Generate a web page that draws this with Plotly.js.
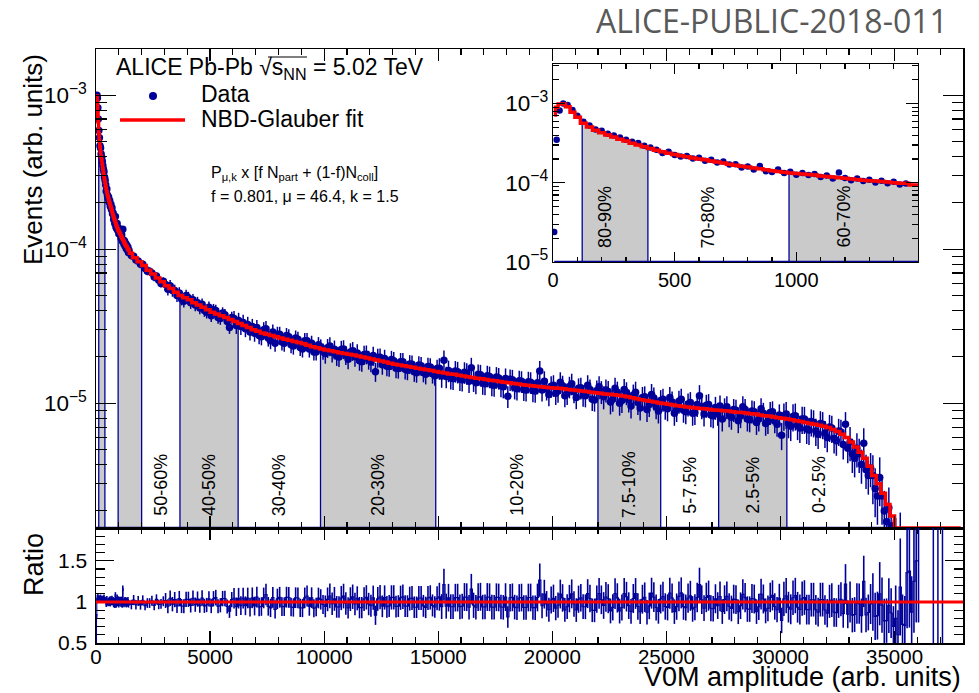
<!DOCTYPE html>
<html><head><meta charset="utf-8">
<script src="https://cdn.plot.ly/plotly-3.0.1.min.js"></script>
<style>html,body{margin:0;padding:0;background:#fff}</style>
</head><body><div id="chart" style="width:979px;height:693px"></div>
<script>
// ================= DATA =================
// Low-amplitude region (detailed in the inset): V0M amplitude, events and fit in units of 1e-6
const lowX = [5,15,27,42,60,80,100,125,150,175,200,225,250,275,300,325,350,375,400,425,450,475,500,525,550,575,600,625,650,675,700,725,750,775,800,825,850,875,900,925,950,975,1000,1025,1050,1075,1100,1125,1150,1175,1200,1225,1250,1275,1300,1325,1350,1375,1400,1425];
const lowDataE6 = [24,350,820,1000,960,830,700,590,530,470,455,415,395,372,350,330,318,293,280,262,238,246,225,215,218,202,207,190,196,181,186,170,172,156,161,147,163,140,137,147,133,138,126,133,125,129,118,124,113,135,115,108,113,105,109,101,106,99,103,95];
const lowFitE6 = [720,900,990,985,910,780,670,565,505,462,430,402,380,356,336,316,300,285,271,258,246,236,227,220,213,206,200,195,189,183,178,172,167,162,158,154,150,146,142,139,136,133,131,129,127,125,122,120,118,116,114,112,110,108,106,105,104,102,100,99];

// NBD-Glauber fit histogram over the full range (bin centres), units of 1e-6
const fitX = [1500,1700,1900,2100,2300,2500,2700,2900,3100,3300,3500,3700,3900,4100,4300,4500,4700,4900,5100,5300,5500,5700,5900,6100,6300,6500,6700,6900,7100,7300,7500,7700,7900,8100,8300,8500,8700,8900,9100,9300,9500,9700,9900,10100,10300,10500,10700,10900,11100,11300,11500,11700,11900,12100,12300,12500,12700,12900,13100,13300,13500,13700,13900,14100,14300,14500,14700,14900,15100,15300,15500,15700,15900,16100,16300,16500,16700,16900,17100,17300,17500,17700,17900,18100,18300,18500,18700,18900,19100,19300,19500,19700,19900,20100,20300,20500,20700,20900,21100,21300,21500,21700,21900,22100,22300,22500,22700,22900,23100,23300,23500,23700,23900,24100,24300,24500,24700,24900,25100,25300,25500,25700,25900,26100,26300,26500,26700,26900,27100,27300,27500,27700,27900,28100,28300,28500,28700,28900,29100,29300,29500,29700,29900,30100,30300,30500,30700,30900,31100,31300,31500,31700,31900,32100,32300,32500,32700,32900,33100,33300,33500,33700,33900,34100,34300,34500,34700,34900,35100,35300,35500,35700,35900,36100,36300,36500,36700,36900,37100,37300,37500,37700,37900];
const fitE6 = [
 94,88,83,78.5,73,69,65,61.5,58,55.5,
 52.5,50,48.5,47,45,43.5,42,40.5,39,38,
 37,36,35,34,33,32,31,30,29.3,28.6,
 28,27.5,27,26.5,26,25.6,25.2,24.8,24.3,23.8,
 23.3,22.9,22.5,22.2,21.9,21.6,21.3,21.0,20.8,20.6,
 20.3,20.0,19.7,19.4,19.1,18.8,18.5,18.2,17.9,17.7,
 17.5,17.3,17.1,16.9,16.7,16.5,16.3,16.1,15.9,15.7,
 15.5,15.4,15.2,15.0,14.85,14.7,14.55,14.4,14.25,14.1,
 14.0,13.85,13.7,13.6,13.45,13.35,13.2,13.1,13.0,12.9,
 12.8,12.7,12.6,12.55,12.5,12.4,12.3,12.2,12.1,12.0,
 11.9,11.8,11.7,11.6,11.5,11.45,11.35,11.25,11.15,11.0,
 10.85,10.7,10.55,10.4,10.3,10.2,10.05,9.95,9.85,9.75,
 9.65,9.55,9.45,9.4,9.3,9.25,9.2,9.1,9.05,9.0,
 8.95,8.9,8.8,8.75,8.7,8.65,8.55,8.5,8.4,8.3,
 8.25,8.15,8.05,8.0,7.9,7.8,7.7,7.6,7.5,7.4,
 7.3,7.2,7.1,6.95,6.75,6.55,6.3,6.0,5.6,5.2,
 4.8,4.4,3.9,3.4,3.0,2.6,2.2,1.85,1.5,1.1,
 0.7,0.4,0.2,0.1,0,0,0,0,0,0,
 0,0,0];

// Data over the full range (bin centres), units of 1e-6
const dataX = [1450,1550,1650,1750,1850,1950,2050,2150,2250,2350,2450,2550,2650,2750,2850,2950,3050,3150,3250,3350,3450,3550,3650,3750,3850,3950,4050,4150,4250,4350,4450,4550,4650,4750,4850,4950,5050,5150,5250,5350,5450,5550,5650,5750,5850,5950,6050,6150,6250,6350,6450,6550,6650,6750,6850,6950,7050,7150,7250,7350,7450,7550,7650,7750,7850,7950,8050,8150,8250,8350,8450,8550,8650,8750,8850,8950,9050,9150,9250,9350,9450,9550,9650,9750,9850,9950,10050,10150,10250,10350,10450,10550,10650,10750,10850,10950,11050,11150,11250,11350,11450,11550,11650,11750,11850,11950,12050,12150,12250,12350,12450,12550,12650,12750,12850,12950,13050,13150,13250,13350,13450,13550,13650,13750,13850,13950,14050,14150,14250,14350,14450,14550,14650,14750,14850,14950,15050,15150,15250,15350,15450,15550,15650,15750,15850,15950,16050,16150,16250,16350,16450,16550,16650,16750,16850,16950,17050,17150,17250,17350,17450,17550,17650,17750,17850,17950,18050,18150,18250,18350,18450,18550,18650,18750,18850,18950,19050,19150,19250,19350,19450,19550,19650,19750,19850,19950,20050,20150,20250,20350,20450,20550,20650,20750,20850,20950,21050,21150,21250,21350,21450,21550,21650,21750,21850,21950,22050,22150,22250,22350,22450,22550,22650,22750,22850,22950,23050,23150,23250,23350,23450,23550,23650,23750,23850,23950,24050,24150,24250,24350,24450,24550,24650,24750,24850,24950,25050,25150,25250,25350,25450,25550,25650,25750,25850,25950,26050,26150,26250,26350,26450,26550,26650,26750,26850,26950,27050,27150,27250,27350,27450,27550,27650,27750,27850,27950,28050,28150,28250,28350,28450,28550,28650,28750,28850,28950,29050,29150,29250,29350,29450,29550,29650,29750,29850,29950,30050,30150,30250,30350,30450,30550,30650,30750,30850,30950,31050,31150,31250,31350,31450,31550,31650,31750,31850,31950,32050,32150,32250,32350,32450,32550,32650,32750,32850,32950,33050,33150,33250,33350,33450,33550,33650,33750,33850,33950,34050,34150,34250,34350,34450,34550,34650,34750,34850,34950,35050,35150,35250,35350,35450,35550,35650,35750,35850,35950,36050,36150];
const dataE6 = [
 98,91, 90,85, 84,80, 80,75, 72,72, 70,66, 67,63, 60,62, 59,55, 58,54,
 54,50, 52,47.5, 46,50, 48.5,45, 47,43.5, 45,41.5, 44,40, 39,42, 37,40.5, 40,36,
 35.5,38.5, 37.5,34, 31,36, 35.5,32, 34.5,31.5, 33.5,30.5, 32.5,29, 31.5,28.5, 31,27.5, 27,30,
 30.5,26.5, 25.5,29, 24.5,28, 28,25, 24.5,27.5, 27,24, 23.5,26.5, 26,23, 22.5,25.5, 25.5,22.5,
 24.5,21.5, 21.5,24.0, 23.2,21.8, 21.0,22.9, 23.5,21.4, 22.4,20.3, 20.0,22.3, 22.5,20.6, 19.3,21.5, 21.9,20.1,
 21.2,18.9, 18.6,20.7, 20.8,19.2, 18.5,20.4, 16.0,19.8, 19.9,17.8, 19.5,17.4, 17.3,19.2, 18.9,16.9, 16.8,18.6,
 18.6,16.6, 16.4,18.0, 17.9,16.0, 15.8,17.7, 17.5,15.9, 15.4,17.3, 17.2,15.6, 15.1,16.8, 16.9,15.0, 19.0,14.9,
 16.3,14.6, 14.5,16.2, 16.0,14.3, 14.2,15.9, 15.7,13.9, 17.0,14.1, 13.6,15.4, 15.3,13.5, 13.4,15.1, 14.9,13.2,
 13.1,14.8, 14.6,13.0, 12.8,14.5, 11.1,14.3, 14.2,12.6, 12.4,14.0, 13.9,12.3, 12.2,13.8, 13.7,12.1, 12.0,13.6,
 16.2,12.2, 13.9,12.4, 11.4,12.9, 13.1,11.6, 12.0,13.7, 13.0,11.2, 11.6,12.8, 13.4,11.9, 10.9,12.5, 12.6,11.3,
 11.2,13.1, 12.3,10.6, 10.5,12.1, 12.8,11.9, 11.0,12.2, 11.9,10.2, 10.6,12.5, 11.8,10.0, 10.4,12.3, 11.7,10.5,
 9.6,11.3, 11.8,10.1, 9.3,10.9, 11.0,9.1, 9.8,11.4, 10.8,9.5, 8.9,10.4, 10.6,9.4, 9.2,10.9, 10.2,8.6,
 9.1,10.3, 10.6,9.0, 8.8,9.9, 10.1,8.6, 8.7,9.8, 11.2,9.5, 8.5,9.7, 9.8,8.4, 8.3,9.4, 8.6,9.6,
 7.9,9.2, 9.5,8.4, 8.1,9.1, 9.0,7.7, 8.3,9.5, 9.1,7.9, 7.8,8.9, 8.8,7.5, 7.9,9.2, 8.6,7.4,
 7.6,8.7, 8.8,7.7, 7.3,8.4, 6.2,8.3, 8.5,7.4, 7.1,8.2, 8.3,7.2, 6.9,7.9, 7.9,6.8, 6.7,7.6,
 7.5,6.6, 6.3,7.4, 7.3,6.4, 6.0,7.0, 6.9,5.9, 5.7,6.6, 6.5,5.4, 7.3,5.1, 5.6,4.7, 4.4,5.1,
 4.7,4.0, 5.5,3.7, 3.4,3.8, 3.4,2.8, 2.5,3.3, 2.5,2.0, 1.7,2.1, 1.6,1.3, 1.2,0.9, 1.3,0.8,
 0.5,0.95, 0.55,0.35, 0.25,0.3, 0.15,null];
// relative statistical uncertainty of the data, by amplitude region
const errEdges = [0, 1500, 3000, 6000, 10000, 15000, 22000, 30000, 33000, 34000, 35000];
const errRel   = [0.03, 0.06, 0.09, 0.12, 0.14, 0.16, 0.17, 0.20, 0.25, 0.35, 0.50];
// bins with data but a vanishing fit (ratio off scale)
const ratioSpikeX = [36700, 36900, 37100];

// centrality classes (V0M amplitude edges)
const bandEdges  = [120, 390, 970, 2000, 3680, 6230, 9840, 14890, 22000, 24750, 27290, 30280, 33100];
const bandLabels = ['80-90%','70-80%','60-70%','50-60%','40-50%','30-40%','20-30%','10-20%','7.5-10%','5-7.5%','2.5-5%','0-2.5%'];

// ================= sanity =================
if (lowX.length!==lowDataE6.length || lowX.length!==lowFitE6.length) throw new Error('low len '+lowX.length+' '+lowDataE6.length+' '+lowFitE6.length);
if (fitX.length!==fitE6.length) throw new Error('fit len '+fitX.length+' '+fitE6.length);
if (dataX.length!==dataE6.length) throw new Error('data len '+dataX.length+' '+dataE6.length);

// ================= build =================
const NAVY = '#000099', RED = '#ff0000', GRAY = '#cacaca';
const FONT = 'Liberation Sans, Arial, Helvetica, sans-serif';
const MAIN_YR = [-5.81, -2.70], INSET_YR = [-5, -2.5], RATIO_YR = [0.5, 1.9];
const W = 979, H = 693;
const px = v => v / W, py = v => 1 - v / H;

const relErrAt = x => { let r = errRel[0]; for (let i = 0; i < errEdges.length; i++) if (x >= errEdges[i]) r = errRel[i]; return r; };
const fX = lowX.concat(fitX);
const fY = lowFitE6.concat(fitE6).map(v => v * 1e-6);
const dX = lowX.concat(dataX);
const dY = lowDataE6.concat(dataE6).map(v => v === null ? null : v * 1e-6);
const dErr = dX.map((x, i) => dY[i] === null ? null : dY[i] * relErrAt(x));
// fit histogram content for the bin containing x (nearest bin centre)
const fitStep = x => { let bi = 0, bd = Infinity; fX.forEach((xx, i) => { const d = Math.abs(xx - x); if (d < bd) { bd = d; bi = i; } }); return fY[bi]; };

const traces = [];
function bandTraces(xa, ya, floorVal) {
  for (let i = 0; i < bandLabels.length; i += 2) {
    const e0 = bandEdges[i], e1 = bandEdges[i + 1];
    const xs = [e0, e0], ys = [floorVal, fitStep(e0)];
    fX.forEach((x, k) => { if (x > e0 && x < e1) { xs.push(x); ys.push(fY[k]); } });
    xs.push(e1, e1, e0); ys.push(fitStep(e1), floorVal, floorVal);
    traces.push({x: xs, y: ys, xaxis: xa, yaxis: ya, type: 'scatter', mode: 'lines', fill: 'toself',
      fillcolor: GRAY, line: {color: NAVY, width: 1.3}, hoverinfo: 'skip', showlegend: false});
  }
  // histogram baseline (drawn at the floor of the log axis, as ROOT does)
  let lastVis = dX[0];
  dX.forEach((x, i) => { if (dY[i] !== null && dY[i] >= floorVal) lastVis = x; });
  traces.push({x: [dX[0], lastVis], y: [floorVal, floorVal],
    xaxis: xa, yaxis: ya, mode: 'lines', line: {color: NAVY, width: 2.5}, hoverinfo: 'skip', showlegend: false});
}
function dataFitTraces(xa, ya, floorVal, msize, minX) {
  const keep = dX.map((x, i) => x >= minX);
  traces.push({x: dX.filter((x, i) => keep[i]), y: dY.filter((v, i) => keep[i]), xaxis: xa, yaxis: ya, type: 'scatter', mode: 'markers',
    marker: {color: NAVY, size: msize}, error_y: {type: 'data', array: dErr.filter((v, i) => keep[i]), visible: true, color: NAVY, thickness: 1.5, width: 0},
    showlegend: false});
  traces.push({x: fX, y: fY.map(v => v > floorVal ? v : floorVal), xaxis: xa, yaxis: ya, type: 'scatter', mode: 'lines',
    line: {color: RED, width: 3.5, shape: 'hvh'}, showlegend: false});
}
bandTraces('x', 'y', Math.pow(10, MAIN_YR[0]));
dataFitTraces('x', 'y', Math.pow(10, MAIN_YR[0]), 7.5, 20);   // main panel uses coarser first bins
bandTraces('x3', 'y3', Math.pow(10, INSET_YR[0]));
dataFitTraces('x3', 'y3', Math.pow(10, INSET_YR[0]), 6.5, 0);

// ratio panel: data / fit
const ratio = dX.map((x, i) => { const f = fitStep(x); return (dY[i] === null || !(f > 0)) ? null : dY[i] / f; });
const ratioErr = ratio.map((r, i) => r === null ? null : r * relErrAt(dX[i]));
traces.push({x: dX, y: ratio, xaxis: 'x2', yaxis: 'y2', type: 'scatter', mode: 'lines',
  line: {color: NAVY, width: 1.1, shape: 'hvh'}, connectgaps: false,
  error_y: {type: 'data', array: ratioErr, visible: true, color: NAVY, thickness: 1.6, width: 0}, showlegend: false});
const spX = [], spY = [];
ratioSpikeX.forEach(x => { spX.push(x, x, null); spY.push(RATIO_YR[0], RATIO_YR[1], null); });
traces.push({x: spX, y: spY, xaxis: 'x2', yaxis: 'y2', mode: 'lines', line: {color: NAVY, width: 1.5}, showlegend: false});

// ================= layout =================
const axBase = {showline: true, linecolor: '#000', linewidth: 1.5, mirror: 'allticks', ticks: 'inside',
  tickcolor: '#000', tickwidth: 1.2, showgrid: false, zeroline: false, tickfont: {family: FONT, size: 21, color: '#000'}};
const mainDom = [96 / W, 963 / W];
const layout = {
  width: W, height: H, margin: {l: 0, r: 0, t: 0, b: 0}, paper_bgcolor: '#fff', plot_bgcolor: '#fff',
  showlegend: false, font: {family: FONT, color: '#000'},
  xaxis: Object.assign({}, axBase, {domain: mainDom, anchor: 'y', range: [0, 38000], dtick: 5000, ticklen: 12,
    showticklabels: false, minor: {ticks: 'inside', dtick: 1000, ticklen: 6, tickcolor: '#000'}}),
  yaxis: Object.assign({}, axBase, {domain: [py(528), py(49)], anchor: 'x', type: 'log', range: MAIN_YR, dtick: 1,
    exponentformat: 'power', ticklen: 20, ticklabelstandoff: 4, tickfont: {family: FONT, size: 18, color: '#000'},
    minor: {ticks: 'inside', dtick: 'D1', ticklen: 11, tickcolor: '#000'}}),
  xaxis2: Object.assign({}, axBase, {domain: mainDom, anchor: 'y2', matches: 'x', range: [0, 38000], dtick: 5000, ticklen: 12,
    tickformat: 'd', ticklabelstandoff: -5, tickfont: {family: FONT, size: 20.5, color: '#000'},
    minor: {ticks: 'inside', dtick: 1000, ticklen: 6, tickcolor: '#000'}}),
  yaxis2: Object.assign({}, axBase, {domain: [py(643), py(528)], anchor: 'x2', range: RATIO_YR,
    tickvals: [0.5, 1, 1.5], ticktext: ['0.5', '1', '1.5'], ticklen: 18, ticklabelstandoff: 3,
    minor: {ticks: 'inside', dtick: 0.1, ticklen: 9, tickcolor: '#000'}}),
  xaxis3: Object.assign({}, axBase, {domain: [553 / W, 918 / W], anchor: 'y3', range: [0, 1500], tickvals: [0, 500, 1000],
    ticklen: 10, linewidth: 1.2, tickfont: {family: FONT, size: 20, color: '#000'},
    minor: {ticks: 'inside', dtick: 100, ticklen: 5, tickcolor: '#000'}}),
  yaxis3: Object.assign({}, axBase, {domain: [py(262), py(64)], anchor: 'x3', type: 'log', range: INSET_YR, dtick: 1,
    exponentformat: 'power', ticklen: 12, linewidth: 1.2, tickfont: {family: FONT, size: 18, color: '#000'},
    minor: {ticks: 'inside', dtick: 'D1', ticklen: 6, tickcolor: '#000'}}),
  shapes: [
    {type: 'line', xref: 'x2 domain', x0: 0, x1: 1, yref: 'y2', y0: 1, y1: 1, line: {color: RED, width: 3}},
    {type: 'line', xref: 'paper', yref: 'paper', x0: px(120), x1: px(185), y0: py(120), y1: py(120), line: {color: RED, width: 3.5}},
    {type: 'circle', xref: 'paper', yref: 'paper', x0: px(149), x1: px(157), y0: py(100), y1: py(92), fillcolor: NAVY, line: {color: NAVY, width: 0}},
    {type: 'line', xref: 'paper', yref: 'paper', x0: px(268), x1: px(307), y0: py(57), y1: py(57), line: {color: '#000', width: 1.2}}
  ],
  annotations: []
};
const ann = (o) => layout.annotations.push(Object.assign({showarrow: false, xref: 'paper', yref: 'paper', font: {family: FONT, size: 23, color: '#000'}}, o));
ann({text: 'ALICE-PUBLIC-2018-011', x: px(950), y: py(21), xanchor: 'right', yanchor: 'middle', font: {family: 'Open Sans, sans-serif', size: 32, color: '#595959'}});
ann({text: 'ALICE Pb-Pb √s<sub>NN</sub> = 5.02 TeV', x: px(114), y: py(69), xanchor: 'left', yanchor: 'middle'});
ann({text: 'Data', x: px(199), y: py(94), xanchor: 'left', yanchor: 'middle'});
ann({text: 'NBD-Glauber fit', x: px(199), y: py(119), xanchor: 'left', yanchor: 'middle'});
ann({text: 'P<sub>μ,k</sub> x [f N<sub>part</sub> + (1-f)N<sub>coll</sub>]', x: px(209), y: py(174), xanchor: 'left', yanchor: 'middle', font: {family: FONT, size: 16, color: '#000'}});
ann({text: 'f = 0.801, μ = 46.4, k = 1.5', x: px(209), y: py(197), xanchor: 'left', yanchor: 'middle', font: {family: FONT, size: 16, color: '#000'}});
ann({text: 'Events (arb. units)', x: px(33), y: py(160), textangle: -90, xanchor: 'center', yanchor: 'middle', font: {family: FONT, size: 26, color: '#000'}});
ann({text: 'Ratio', x: px(34), y: py(565), textangle: -90, xanchor: 'center', yanchor: 'middle', font: {family: FONT, size: 27, color: '#000'}});
ann({text: 'V0M amplitude (arb. units)', x: px(962), y: py(693), xanchor: 'right', yanchor: 'bottom', borderpad: 0, font: {family: FONT, size: 27, color: '#000'}});
for (let i = 3; i < bandLabels.length; i++) {
  ann({text: bandLabels[i], xref: 'x', x: (bandEdges[i] + bandEdges[i + 1]) / 2, y: py(485), textangle: -90,
    xanchor: 'center', yanchor: 'middle', font: {family: FONT, size: 18, color: '#000'}});
}
for (let i = 0; i < 3; i++) {
  ann({text: bandLabels[i], xref: 'x3', x: (bandEdges[i] + Math.min(bandEdges[i + 1], 1500)) / 2, xshift: -10, y: py(217), textangle: -90,
    xanchor: 'center', yanchor: 'middle', font: {family: FONT, size: 18, color: '#000'}});
}

Plotly.newPlot('chart', traces, layout, {staticPlot: true, displayModeBar: false});
</script></body></html>
